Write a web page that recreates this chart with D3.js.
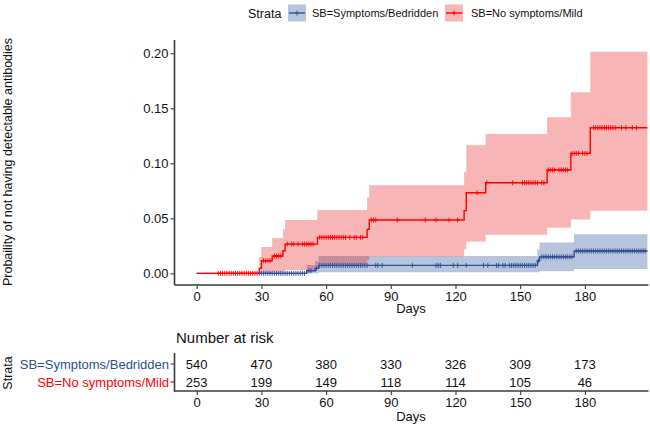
<!DOCTYPE html>
<html><head><meta charset="utf-8">
<script src="https://cdn.jsdelivr.net/npm/d3@7"></script>
<style>body{margin:0;background:#fff}svg{display:block;font-family:"Liberation Sans",Arial,sans-serif}</style>
</head><body>
<script>
// ---- data ----
const strata = ["SB=Symptoms/Bedridden", "SB=No symptoms/Mild"];
const xTicks = [0, 30, 60, 90, 120, 150, 180];
const yTicks = [0, 0.05, 0.10, 0.15, 0.20];
const endDay = 209;

const blueTimes = [0, 51, 55, 56.5, 158, 159, 175];
const blueEst   = [0, 0.0024, 0.0045, 0.0072, 0.0115, 0.015, 0.0203];
const blueUpper = [0, 0.0075, 0.011, 0.0157, 0.022, 0.028, 0.0355];
const blueLower = [0, 0, 0, 0.001, 0.001, 0.002, 0.004];

const redTimes = [0, 29, 30, 35, 40, 41, 56, 79, 80, 124, 125, 134, 162.5, 173.5, 182.5];
const redEst   = [0, 0.0045, 0.0115, 0.0157, 0.0205, 0.0266, 0.0327, 0.040, 0.0485, 0.057, 0.0733, 0.0824, 0.094, 0.109, 0.1324];
const redUpper = [0, 0.015, 0.024, 0.032, 0.040, 0.0485, 0.0575, 0.069, 0.080, 0.092, 0.1165, 0.1266, 0.1418, 0.1645, 0.2015];
const redLower = [0, 0, 0, 0.001, 0.002, 0.003, 0.008, 0.012, 0.0155, 0.022, 0.029, 0.035, 0.0415, 0.049, 0.057];

const blueCensor = [29,30,31,32,33,34,35,36,37,38,39,40,41,42,43,44,45,46,47,48,49,50,52,53,55.5,
  57,58,59,60,61,62,63,64,65,66,67,68,69,70,71,72,73,74,75,76,77,78,79,83,84,86,100,111,112,113,119,121,125,133,135,
  139,140,142,143,145,146,147,148,149,150,151,152,153,154,155,156,157,158.5,
  160,161,162,163,164,165,166,167,168,169,170,171,172,173,174,
  176,177,178,179,180,181,182,183,184,185,186,187,188,189,190,191,192,193,194,195,196,197,198,199,200,201,202,203,204,205,206,207,208];
const redCensor = [10,11,12,13,14,15,16,17,18,19,20,21,22,23,24,25,26,27,28,31,32,33,34,36,37,38,39,
  42,44,45,47,49,50,51,52,53,54,57,58,59,60,61,62,63,64,65,66,67,68,69,71,73,74,76,77,81,82,83,
  93,106,111,117,121,130,134.5,146.5,151,152,153,154,155,156,157,158,160,161,
  163,164,165,166,168,169,170,171,172,174,175,176,177,179,180,181,
  184,185,186,187,188,189,190,191,192,193,194,197,199,202,204];

const riskBlue = [540, 470, 380, 330, 326, 309, 173];
const riskRed  = [253, 199, 149, 118, 114, 105, 46];

// ---- styles ----
const blueCol = "#2E4F96", redCol = "#FF0000";
const blueFill = "#2E5A9C", redFill = "#E8191C";
const axisCol = "#3a3a3a";

const W = 650, H = 428;
const svg = d3.select("body").append("svg").attr("width", W).attr("height", H);

const x = d3.scaleLinear().domain([-10.3, 209.5]).range([174.5, 648.5]);
const y = d3.scaleLinear().domain([-0.0106, 0.2121]).range([285, 40]);

function series(times, est, lo, up) {
  const pts = times.map((t, i) => ({t, e: est[i], lo: lo[i], up: up[i]}));
  const last = pts[pts.length - 1];
  pts.push({t: endDay, e: last.e, lo: last.lo, up: last.up});
  return pts;
}
const blue = series(blueTimes, blueEst, blueLower, blueUpper);
const red = series(redTimes, redEst, redLower, redUpper);

const area = d3.area().curve(d3.curveStepAfter).x(d => x(d.t)).y0(d => y(d.lo)).y1(d => y(d.up));
const line = d3.line().curve(d3.curveStepAfter).x(d => x(d.t)).y(d => y(d.e));

function stepVal(pts, t) {
  let v = 0;
  for (const p of pts) { if (p.t <= t) v = p.e; }
  return v;
}

const g = svg.append("g");
g.append("path").attr("d", area(blue)).attr("fill", blueFill).attr("fill-opacity", 0.35);
g.append("path").attr("d", area(red)).attr("fill", redFill).attr("fill-opacity", 0.32);
g.append("path").attr("d", line(blue)).attr("fill", "none").attr("stroke", blueCol).attr("stroke-width", 1.4);
g.append("path").attr("d", line(red)).attr("fill", "none").attr("stroke", redCol).attr("stroke-width", 1.4);

const plus = "M-2,0H2M0,-2.5V2.5";
g.selectAll(".cb").data(blueCensor).enter().append("path")
  .attr("d", plus).attr("transform", d => `translate(${x(d)},${y(stepVal(blue, d))})`)
  .attr("stroke", blueCol).attr("stroke-width", 0.9).attr("fill", "none");
g.selectAll(".cr").data(redCensor).enter().append("path")
  .attr("d", plus).attr("transform", d => `translate(${x(d)},${y(stepVal(red, d))})`)
  .attr("stroke", redCol).attr("stroke-width", 0.9).attr("fill", "none");

// axes
const xAxis = svg.append("g").attr("transform", "translate(0,285)")
  .call(d3.axisBottom(x).tickValues(xTicks).tickSize(4).tickPadding(3).tickFormat(d3.format("d")));
const yAxis = svg.append("g").attr("transform", "translate(174.5,0)")
  .call(d3.axisLeft(y).tickValues(yTicks).tickSize(4).tickPadding(2).tickFormat(d3.format(".2f")));
[xAxis, yAxis].forEach(a => {
  a.select(".domain").attr("stroke", axisCol).attr("stroke-width", 1.6);
  a.selectAll(".tick line").attr("stroke", axisCol).attr("stroke-width", 1.1);
  a.selectAll(".tick text").attr("fill", "#111").style("font-size", "13px");
});
yAxis.select(".domain").attr("d", "M0,40V285");
xAxis.select(".domain").attr("d", `M${174.5},0H${648.5}`);

svg.append("text").attr("x", 411).attr("y", 313).attr("text-anchor", "middle")
  .style("font-size", "13px").attr("fill", "#111").text("Days");
svg.append("text").attr("transform", "translate(12,162) rotate(-90)").attr("text-anchor", "middle")
  .style("font-size", "12.5px").attr("fill", "#111").text("Probaility of not having detectable antibodies");

// legend
const lg = svg.append("g").attr("transform", "translate(0,13)");
lg.append("text").attr("x", 248).attr("y", 4.5).style("font-size", "12.5px").attr("fill", "#111").text("Strata");
const legItems = [
  {lab: strata[0], x0: 288, fill: blueFill, fo: 0.35, col: blueCol, tx: 312},
  {lab: strata[1], x0: 445, fill: redFill, fo: 0.32, col: redCol, tx: 471}
];
legItems.forEach(it => {
  lg.append("rect").attr("x", it.x0).attr("y", -8.5).attr("width", 18).attr("height", 17)
    .attr("fill", it.fill).attr("fill-opacity", it.fo);
  lg.append("line").attr("x1", it.x0 + 1).attr("x2", it.x0 + 17).attr("y1", 0).attr("y2", 0)
    .attr("stroke", it.col).attr("stroke-width", 1.4);
  lg.append("path").attr("d", plus).attr("transform", `translate(${it.x0 + 9},0)`)
    .attr("stroke", it.col).attr("stroke-width", 0.9);
  lg.append("text").attr("x", it.tx).attr("y", 4).style("font-size", "11px").attr("fill", "#111").text(it.lab);
});

// risk table
svg.append("text").attr("x", 176).attr("y", 343).style("font-size", "15px").attr("fill", "#111").text("Number at risk");
const rowY = [364, 382];
const tAxis = svg.append("g").attr("transform", "translate(0,391)")
  .call(d3.axisBottom(x).tickValues(xTicks).tickSize(4).tickPadding(3).tickFormat(d3.format("d")));
tAxis.select(".domain").attr("d", `M174.5,0H648.5`).attr("stroke", axisCol).attr("stroke-width", 1.6);
tAxis.selectAll(".tick line").attr("stroke", axisCol).attr("stroke-width", 1.1);
tAxis.selectAll(".tick text").attr("fill", "#111").style("font-size", "13px");
svg.append("line").attr("x1", 174.5).attr("x2", 174.5).attr("y1", 353).attr("y2", 391.8)
  .attr("stroke", axisCol).attr("stroke-width", 1.6);
rowY.forEach(ry => svg.append("line").attr("x1", 170.5).attr("x2", 174.5).attr("y1", ry).attr("y2", ry)
  .attr("stroke", axisCol).attr("stroke-width", 1.1));
[riskBlue, riskRed].forEach((arr, r) => {
  svg.append("text").attr("x", 169).attr("y", rowY[r] + 4.5).attr("text-anchor", "end")
    .style("font-size", "13px").attr("fill", r === 0 ? blueCol : redCol).text(strata[r]);
  svg.selectAll(null).data(arr).enter().append("text")
    .attr("x", (d, i) => x(xTicks[i])).attr("y", rowY[r] + 4.5).attr("text-anchor", "middle")
    .style("font-size", "13px").attr("fill", "#111").text(d => d);
});
svg.append("text").attr("x", 411).attr("y", 421).attr("text-anchor", "middle")
  .style("font-size", "13px").attr("fill", "#111").text("Days");
svg.append("text").attr("transform", "translate(12,373) rotate(-90)").attr("text-anchor", "middle")
  .style("font-size", "12.5px").attr("fill", "#111").text("Strata");
</script>
</body></html>
